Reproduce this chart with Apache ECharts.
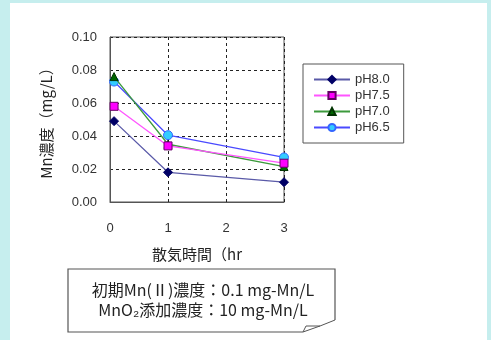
<!DOCTYPE html>
<html><head><meta charset="utf-8">
<script src="https://cdn.jsdelivr.net/npm/echarts@6/dist/echarts.min.js"></script>
<style>
html,body{margin:0;padding:0;width:491px;height:340px;background:#c6eeee;overflow:hidden}
#panel{position:absolute;left:10px;top:3px;width:477px;height:337px;background:#fff}
#c{position:absolute;left:0;top:0;width:491px;height:340px}
</style></head><body>
<div id="panel"></div>
<div id="c"></div>
<script>
const hours = [0.07, 1, 3];
const xTicks = [0, 1, 2, 3];
const seriesNames = ['pH8.0', 'pH7.5', 'pH7.0', 'pH6.5'];
const ph80 = [0.049, 0.018, 0.012];
const ph75 = [0.058, 0.034, 0.0235];
const ph70 = [0.076, 0.035, 0.0215];
const ph65 = [0.073, 0.0405, 0.027];
const yTicks = [0, 0.02, 0.04, 0.06, 0.08, 0.10];
const noteLines = ['初期Mn(Ⅱ)濃度：0.1 mg-Mn/L', 'MnO₂添加濃度：10 mg-Mn/L'];

const styles = [
  {line:'#5a5aa8', fill:'#000066', border:'#000066', symbol:'diamond', size:9},
  {line:'#ff55ff', fill:'#ff00ff', border:'#660066', symbol:'rect', size:8},
  {line:'#3c9a3c', fill:'#006600', border:'#003300', symbol:'triangle', size:8},
  {line:'#4a4aff', fill:'#33ccff', border:'#3366ff', symbol:'circle', size:9}
];
const values = [ph80, ph75, ph70, ph65];
const font = '"Liberation Sans", Arial, "Noto Sans CJK JP", sans-serif';
const cjk = '"Noto Sans CJK JP", sans-serif';

const chart = echarts.init(document.getElementById('c'));
chart.setOption({
  backgroundColor: 'transparent',
  animation: false,
  grid: {left: 110, right: 207, top: 37, bottom: 138, show: true, borderColor: '#555', borderWidth: 1, backgroundColor: 'transparent'},
  xAxis: {
    type: 'value', min: xTicks[0], max: xTicks[xTicks.length - 1], interval: 1,
    name: '散気時間（hr', nameLocation: 'middle', nameGap: 45,
    nameTextStyle: {fontFamily: cjk, fontSize: 15, color: '#222'},
    axisLine: {show: true, lineStyle: {color: '#555'}},
    axisTick: {show: false},
    axisLabel: {margin: 20, fontFamily: font, fontSize: 13, color: '#333'},
    splitLine: {show: true, lineStyle: {color: '#222', type: [3, 3], width: 1}}
  },
  yAxis: {
    type: 'value', min: yTicks[0], max: yTicks[yTicks.length - 1], interval: 0.02,
    name: 'Mn濃度（mg/L）', nameLocation: 'middle', nameGap: 56,
    nameTextStyle: {fontFamily: cjk, fontSize: 15, color: '#222'},
    axisLine: {show: true, lineStyle: {color: '#555'}},
    axisTick: {show: false},
    axisLabel: {margin: 13, fontFamily: font, fontSize: 13, color: '#333', formatter: v => v.toFixed(2)},
    splitLine: {show: true, lineStyle: {color: '#222', type: [3, 3], width: 1}}
  },
  legend: {
    orient: 'vertical', left: 303, top: 64, width: 102,
    padding: [9, 14, 9, 10], itemGap: 3,
    itemWidth: 36, itemHeight: 9,
    borderColor: '#555', borderWidth: 1,
    textStyle: {fontFamily: font, fontSize: 13, color: '#333'},
    data: seriesNames
  },
  series: seriesNames.map((n, i) => ({
    name: n, type: 'line',
    data: hours.map((h, j) => [h, values[i][j]]),
    symbol: styles[i].symbol, symbolSize: styles[i].size,
    lineStyle: {color: styles[i].line, width: 1.3},
    itemStyle: {color: styles[i].fill, borderColor: styles[i].border, borderWidth: 1},
    z: 10 - i
  })),
  graphic: [
    {type: 'polyline', shape: {points: [[303, 332], [68, 332], [68, 269], [335, 269], [335, 320]]},
     style: {stroke: '#555', lineWidth: 1.2, fill: null}},
    {type: 'polyline', shape: {points: [[335, 320], [320, 326], [303, 332], [306, 326], [320, 326]]},
     style: {stroke: '#555', lineWidth: 1, fill: null}},
    {type: 'text', style: {text: noteLines[0], x: 203, y: 290, textAlign: 'center', textVerticalAlign: 'middle', font: '16px ' + cjk, fill: '#222'}},
    {type: 'text', style: {text: noteLines[1], x: 203, y: 310, textAlign: 'center', textVerticalAlign: 'middle', font: '16px ' + cjk, fill: '#222'}}
  ]
});
</script>
</body></html>
